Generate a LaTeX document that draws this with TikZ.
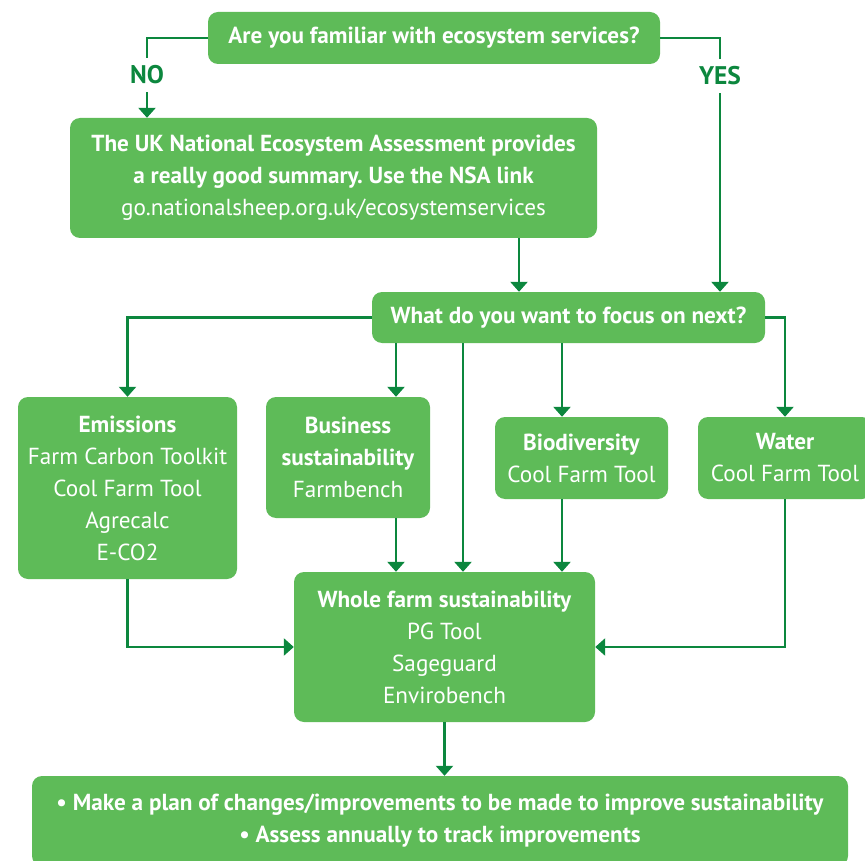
\documentclass[tikz,border=0pt]{standalone}
\usepackage{fontspec}
\setmainfont{PT Sans}
\usepackage{xcolor}
\usetikzlibrary{arrows.meta,positioning}

\definecolor{boxgreen}{RGB}{94,187,88}
\definecolor{linegreen}{RGB}{12,135,62}
\frenchspacing

\begin{document}
\begin{tikzpicture}[
  x=1pt, y=-1pt,
  every node/.style={font=\fontsize{23.2}{32}\selectfont},
  box/.style={rectangle, rounded corners=10pt, fill=boxgreen, text=white, align=center, inner sep=0pt},
  answer/.style={text=linegreen, font=\fontsize{25.5}{28}\selectfont\bfseries, inner sep=8pt},
  wire/.style={draw=linegreen, line width=2.5pt},
  flow/.style={wire, -{Triangle[width=17pt,length=10pt]}}
]
  \clip (0,0) rectangle (865,861);

  % question boxes
  \node[box, minimum width=452pt, minimum height=52pt] (ques) at (434,38)
    {\textbf{Are you familiar with ecosystem services?}};
  \node[box, minimum width=527pt, minimum height=120pt] (uk) at (333.5,178)
    {\textbf{The UK National Ecosystem Assessment provides}\\
     \textbf{a really good summary. Use the NSA link}\\
     go.nationalsheep.org.uk/ecosystemservices};
  \node[box, minimum width=393pt, minimum height=51pt] (focus) at (568.5,317.5)
    {\textbf{What do you want to focus on next?}};

  % focus areas
  \node[box, minimum width=219pt, minimum height=182pt] (emis) at (127.5,488)
    {\textbf{Emissions}\\ Farm Carbon Toolkit\\ Cool Farm Tool\\ Agrecalc\\ E-CO2};
  \node[box, minimum width=164pt, minimum height=121pt] (busi) at (348,457.5)
    {\textbf{Business}\\ \textbf{sustainability}\\ Farmbench};
  \node[box, minimum width=173pt, minimum height=82pt] (biod) at (581.5,458)
    {\textbf{Biodiversity}\\ Cool Farm Tool};
  \node[box, minimum width=174pt, minimum height=82pt] (water) at (785,458)
    {\textbf{Water}\\ Cool Farm Tool};
  \node[box, minimum width=301pt, minimum height=150pt] (whole) at (444.5,647)
    {\textbf{Whole farm sustainability}\\ PG Tool\\ Sageguard\\ Envirobench};
  \node[box, minimum width=816pt, minimum height=90pt] (plan) at (440,821)
    {\textbf{\textbullet{} Make a plan of changes/improvements to be made to improve sustainability}\\
     \textbf{\textbullet{} Assess annually to track improvements}};

  % answers
  \node[answer] (no) at (147,75) {NO};
  \node[answer] (yes) at (720,76) {YES};

  % connectors
  \draw[wire] (ques.west) -| (no.north);
  \draw[flow] (no.south) -- (uk.north -| no.south);
  \draw[wire] (ques.east) -| (yes.north);
  \draw[flow] (yes.south) -- (focus.north -| yes.south);
  \draw[flow] (uk.south -| 519,0) -- (focus.north -| 519,0);

  \draw[flow] (focus.west) -| (emis.north);
  \draw[flow] (focus.south -| 396,0) -- (busi.north -| 396,0);
  \draw[flow] (focus.south -| 463,0) -- (whole.north -| 463,0);
  \draw[flow] (focus.south -| 562,0) -- (biod.north -| 562,0);
  \draw[flow] (focus.east) -| (water.north);

  \draw[flow] (emis.south) |- (whole.west);
  \draw[flow] (busi.south -| 396,0) -- (whole.north -| 396,0);
  \draw[flow] (biod.south -| 562,0) -- (whole.north -| 562,0);
  \draw[flow] (water.south) |- (whole.east);
  \draw[flow] (whole.south) -- (whole.south |- plan.north);
\end{tikzpicture}
\end{document}
